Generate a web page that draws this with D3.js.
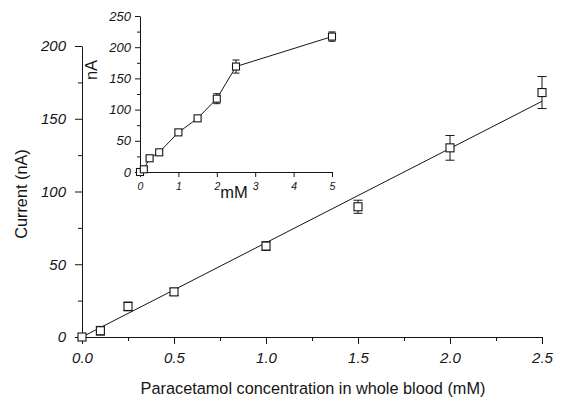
<!DOCTYPE html>
<html>
<head>
<meta charset="utf-8">
<script src="https://cdn.jsdelivr.net/npm/d3@7"></script>
<style>
  html, body { margin: 0; padding: 0; background: #fff; }
  svg { display: block; font-family: "Liberation Sans", Arial, sans-serif; }
  .tick text { font-style: italic; }
</style>
</head>
<body>
<div id="chart"></div>
<script>
// main plot: paracetamol in whole blood
const mainConc  = [0, 0.1, 0.25, 0.5, 1.0, 1.5, 2.0, 2.5];
const mainCurr  = [0, 4.3, 21, 31, 62.5, 89.5, 130, 168];
const mainErr   = [0, 3, 3, 2.5, 3, 4.5, 8.5, 11];
const fitConc   = [0, 2.5];
const fitCurr   = [0, 162];
const mainXTicks = [0, 0.5, 1.0, 1.5, 2.0, 2.5];
const mainYTicks = [0, 50, 100, 150, 200];

// inset: extended range
const insetConc = [0, 0.1, 0.25, 0.5, 1, 1.5, 2, 2.5, 5];
const insetCurr = [0, 4.3, 22, 31.5, 63.5, 86, 117.5, 169, 217];
const insetErr  = [0, 2, 3, 3, 3, 3, 8, 10.5, 7.5];
const insetXTicks = [0, 1, 2, 3, 4, 5];
const insetYTicks = [0, 50, 100, 150, 200, 250];

const W = 566, H = 401;
const ink = "#151515";

const svg = d3.select("#chart").append("svg")
  .attr("width", W).attr("height", H);

function drawPanel(opts) {
  const { x, y, xTicks, yTicks, xMinor, yMinor, xFmt, xFont, yFont, majorLen, minorLen } = opts;
  const g = svg.append("g");

  // minor ticks
  const xAxisMinor = d3.axisBottom(x).tickValues(xMinor).tickSize(minorLen).tickFormat("");
  const yAxisMinor = d3.axisLeft(y).tickValues(yMinor).tickSize(minorLen).tickFormat("");
  g.append("g").attr("transform", `translate(0,${y(0)})`).call(xAxisMinor)
    .call(a => a.select(".domain").remove());
  g.append("g").attr("transform", `translate(${x(0)},0)`).call(yAxisMinor)
    .call(a => a.select(".domain").remove());

  const xAxis = g.append("g").attr("transform", `translate(0,${y(0)})`)
    .call(d3.axisBottom(x).tickValues(xTicks).tickSize(majorLen).tickSizeOuter(0).tickPadding(opts.xPad).tickFormat(xFmt));
  const yAxis = g.append("g").attr("transform", `translate(${x(0)},0)`)
    .call(d3.axisLeft(y).tickValues(yTicks).tickSize(majorLen).tickSizeOuter(0).tickPadding(opts.yPad).tickFormat(d3.format("d")));

  xAxis.selectAll("text").attr("font-size", xFont).attr("fill", ink);
  yAxis.selectAll("text").attr("font-size", yFont).attr("fill", ink);
  g.selectAll(".domain, .tick line").attr("stroke", ink).attr("stroke-width", 1);
  g.selectAll(".tick text").attr("font-family", "Liberation Sans, Arial, sans-serif");
  return g;
}

function drawPoints(g, x, y, xs, ys, es, box, cap) {
  const pts = xs.map((d, i) => ({ x: d, y: ys[i], e: es[i] }));
  const eb = g.append("g").attr("stroke", ink).attr("stroke-width", 1);
  pts.filter(p => p.e > 0).forEach(p => {
    const cx = x(p.x);
    eb.append("line").attr("x1", cx).attr("x2", cx)
      .attr("y1", y(p.y + p.e)).attr("y2", y(p.y - p.e));
    [p.y + p.e, p.y - p.e].forEach(v => {
      eb.append("line").attr("x1", cx - cap).attr("x2", cx + cap)
        .attr("y1", y(v)).attr("y2", y(v));
    });
  });
  g.append("g").selectAll("rect").data(pts).join("rect")
    .attr("x", d => x(d.x) - box / 2)
    .attr("y", d => y(d.y) - box / 2)
    .attr("width", box).attr("height", box)
    .attr("fill", "#fff").attr("stroke", ink).attr("stroke-width", 1.1);
}

// ── Main panel ──
const mx = d3.scaleLinear().domain([0, 2.5]).range([82, 542]);
const my = d3.scaleLinear().domain([0, 200]).range([337, 46]);

const mainG = drawPanel({
  x: mx, y: my,
  xTicks: mainXTicks, yTicks: mainYTicks,
  xMinor: [0.25, 0.75, 1.25, 1.75, 2.25],
  yMinor: [25, 75, 125, 175],
  xFmt: d3.format(".1f"), xFont: 15, yFont: 15,
  majorLen: 7, minorLen: 4, xPad: 8, yPad: 9
});

mainG.append("path")
  .datum(fitConc.map((d, i) => [d, fitCurr[i]]))
  .attr("fill", "none").attr("stroke", ink).attr("stroke-width", 1)
  .attr("d", d3.line().x(d => mx(d[0])).y(d => my(d[1])));

drawPoints(mainG, mx, my, mainConc, mainCurr, mainErr, 8, 4.5);

svg.append("text")
  .attr("x", 313).attr("y", 394)
  .attr("text-anchor", "middle").attr("font-size", 16.3).attr("fill", ink)
  .text("Paracetamol concentration in whole blood (mM)");

svg.append("text")
  .attr("transform", "translate(27,194) rotate(-90)")
  .attr("text-anchor", "middle").attr("font-size", 16.3).attr("fill", ink)
  .text("Current (nA)");

// ── Inset ──
const ix = d3.scaleLinear().domain([0, 5]).range([140, 332]);
const iy = d3.scaleLinear().domain([0, 250]).range([172, 16]);

const insetG = drawPanel({
  x: ix, y: iy,
  xTicks: insetXTicks, yTicks: insetYTicks,
  xMinor: [],
  yMinor: [25, 75, 125, 175, 225],
  xFmt: d3.format("d"), xFont: 10.5, yFont: 13,
  majorLen: 5, minorLen: 3, xPad: 6, yPad: 4
});

insetG.append("path")
  .datum(insetConc.map((d, i) => [d, insetCurr[i]]))
  .attr("fill", "none").attr("stroke", ink).attr("stroke-width", 1)
  .attr("d", d3.line().x(d => ix(d[0])).y(d => iy(d[1])));

drawPoints(insetG, ix, iy, insetConc, insetCurr, insetErr, 7, 3.5);

svg.append("text")
  .attr("x", 234).attr("y", 198)
  .attr("text-anchor", "middle").attr("font-size", 16.5).attr("fill", ink)
  .text("mM");

svg.append("text")
  .attr("transform", "translate(97,70) rotate(-90)")
  .attr("text-anchor", "middle").attr("font-size", 16.5).attr("fill", ink)
  .text("nA");
</script>
</body>
</html>
